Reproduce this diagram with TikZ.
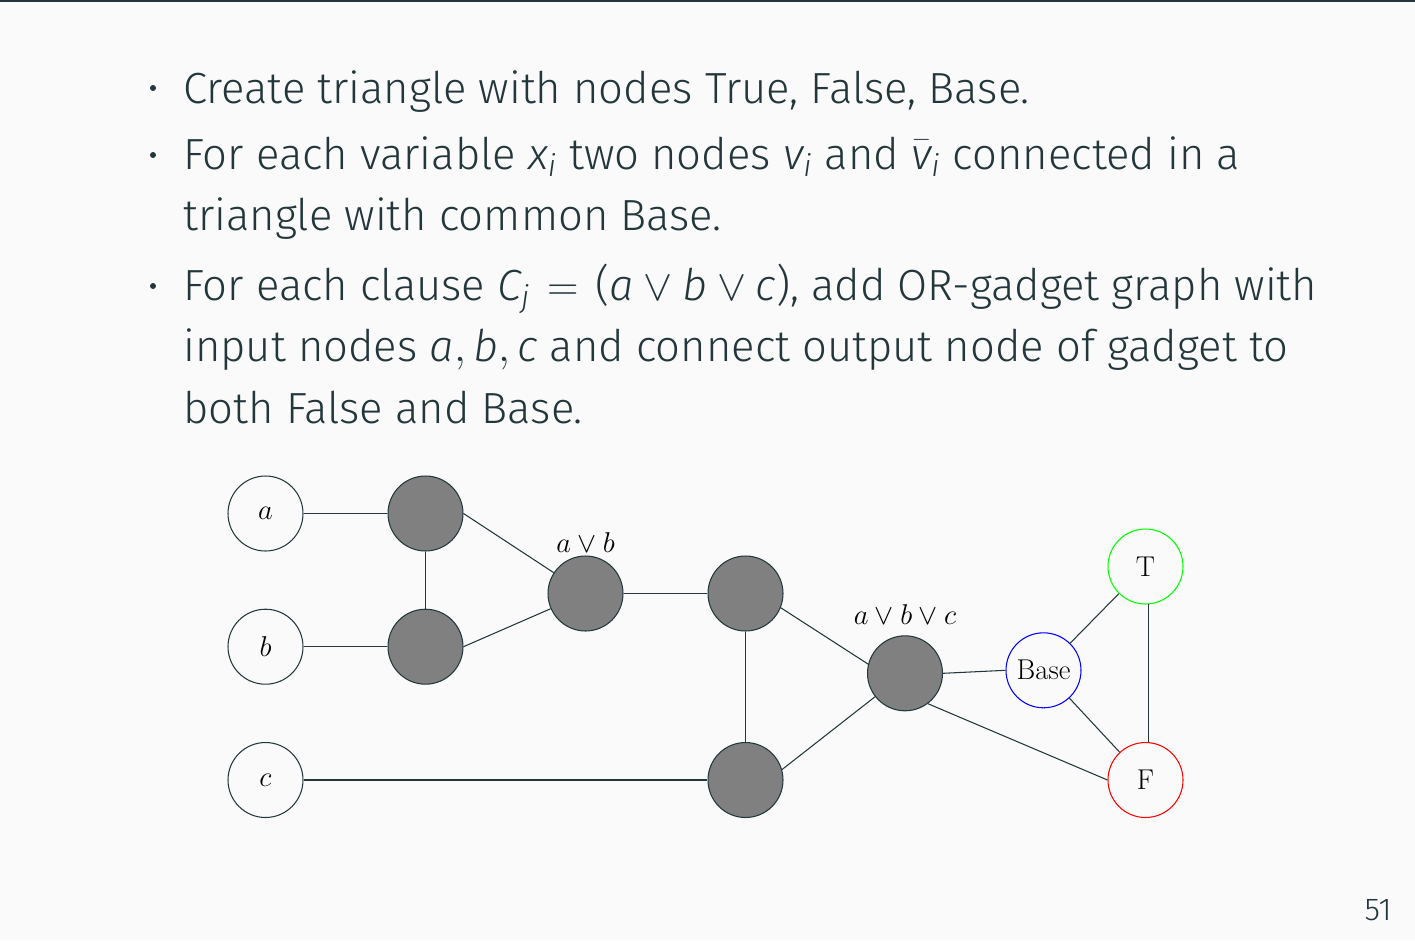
\RequirePackage{fix-cm}
\documentclass[tikz,border=0pt]{standalone}
\usepackage{amsmath,amssymb}
\usepackage{fontspec}
\usepackage{tikz}
\usetikzlibrary{positioning}
\newfontfamily\fira{Fira Sans}[UprightFont=* Light, ItalicFont=* Light Italic]
\definecolor{mDarkTeal}{HTML}{23373B}
\definecolor{mBackground}{HTML}{FAFAFA}
\tikzset{
    itemline/.style={
        anchor=base west,
        inner sep=0pt,
        text=mDarkTeal,
        font=\fira\fontsize{24.8}{30}\selectfont
    },
    itemdot/.style={
        circle,
        fill=mDarkTeal,
        inner sep=0pt,
        minimum size=0.12cm
    },
    pagenum/.style={
        anchor=base east,
        inner sep=0pt,
        text=mDarkTeal,
        font=\fira\fontsize{18}{20}\selectfont
    },
}

\begin{document}
\begin{tikzpicture}
[
    x=0.02cm, y=-0.02cm,
    every node/.append style={font=\fontsize{16.3}{19}\selectfont},
    varnode/.style={circle, draw=mDarkTeal, line width=0.6pt, minimum size=1.5cm, inner sep=0pt, text=black},
    gadget/.style={circle, draw=mDarkTeal, line width=0.6pt, fill=gray, minimum size=1.5cm, inner sep=0pt},
    edge/.style={draw=mDarkTeal, line width=0.6pt},
]
% slide background
\fill[mBackground] (0,0) rectangle (1415,940);
\fill[mDarkTeal] (0,0) rectangle (1415,2);
\useasboundingbox (0,0) rectangle (1415,940);

% bullet list
\node[itemdot] (d1) at (153,88) {};
\node[itemdot] (d2) at (153,155) {};
\node[itemdot] (d3) at (153,286) {};
\node[itemline] (l1) at (183,103) {Create triangle with nodes True, False, Base.};
\node[itemline] (l2) at (183,169) {For each variable $\textit{x}_{\textit{i}}$ two nodes $\textit{v}_{\textit{i}}$ and $\bar{\textit{v}}_{\textit{i}}$ connected in a};
\node[itemline] (l3) at (183,230) {triangle with common Base.};
\node[itemline] (l4) at (183,300) {For each clause $\textit{C}_{\textit{j}} \mskip2mu = \mskip2mu \text{(}\textit{a} \vee \textit{b} \vee \textit{c}\text{)}$, add OR-gadget graph with};
\node[itemline] (l5) at (183,361) {input nodes $\textit{a}, \textit{b}, \textit{c}$ and connect output node of gadget to};
\node[itemline] (l6) at (183,423) {both False and Base.};

% inputs
\node[varnode] (a) at (265.5,513.5) {$a$};
\node[varnode] (b) at (265.5,646.7) {$b$};
\node[varnode] (c) at (265.5,780) {$c$};

% OR gadgets
\node[gadget] (g1) at (425.5,513.5) {};
\node[gadget] (g2) at (425.5,646.7) {};
\node[gadget, label={[label distance=-0.07cm]above:{$a \vee b$}}] (ab) at (585.5,593.5) {};
\node[gadget] (g3) at (745.5,593.5) {};
\node[gadget] (g4) at (745.5,780) {};
\node[gadget, label={[label distance=0.1cm]above:{$a \vee b \vee c$}}] (abc) at (905,673.3) {};

% base triangle
\node[varnode, draw=blue] (base) at (1043.5,670.3) {Base};
\node[varnode, draw=green] (T) at (1145.5,566.5) {T};
\node[varnode, draw=red] (F) at (1145.5,780) {F};

\path[edge] (a) -- (g1);
\path[edge] (b) -- (g2);
\path[edge] (g1) -- (g2);
\path[edge] (g1.east) -- (ab);
\path[edge] (g2.east) -- (ab);
\path[edge] (ab) -- (g3);
\path[edge] (g3) -- (g4);
\path[edge] (c) -- (g4);
\path[edge] (g3.-22) -- (abc.166);
\path[edge] (g4.16) -- (abc.218);
\path[edge] (abc.east) -- (base.west);
\path[edge] (abc.-53) -- (F.west);
\path[edge] (base) -- (T);
\path[edge] (base) -- (F);
\path[edge] (T.-85) -- (F.85);

\node[pagenum] (page) at (1392,920) {51};
\end{tikzpicture}
\end{document}
